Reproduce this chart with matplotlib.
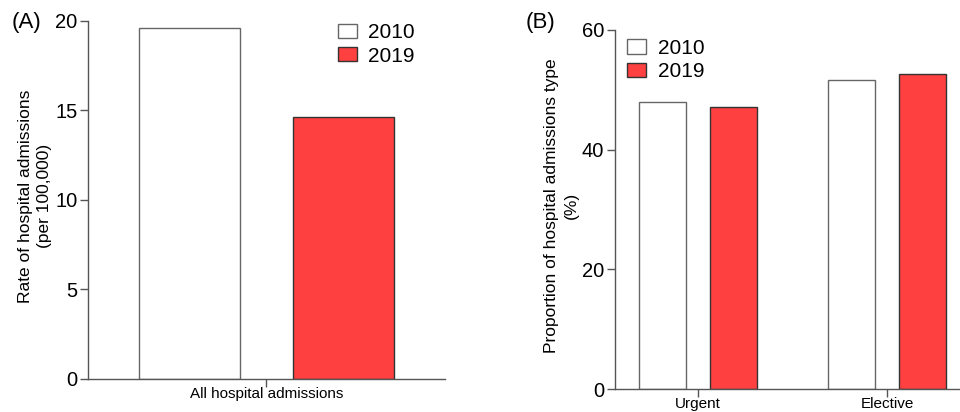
import numpy as np
import matplotlib
matplotlib.use('Agg')
from matplotlib import pyplot as plt
from matplotlib.patches import Patch

plt.rcParams['font.family'] = ['Liberation Sans', 'DejaVu Sans']

# Panel A: overall admission rate
years = ["2010", "2019"]
rate_cats = ["All hospital admissions"]
rate_2010 = [19.6]
rate_2019 = [14.6]

# Panel B: admission type share
type_cats = ["Urgent", "Elective"]
share_2010 = [48.0, 51.6]
share_2019 = [47.1, 52.7]

WHITE = "#ffffff"
RED = "#ff4040"
SPINE = "#555555"

fig = plt.figure(figsize=(9.6, 4.12), dpi=100)
axA = fig.add_axes([0.0917, 0.0801, 0.3718, 0.8697])
axB = fig.add_axes([0.6403, 0.0558, 0.3597, 0.8714])


def style_axis(ax):
    for side in ["top", "right"]:
        ax.spines[side].set_visible(False)
    for side in ["left", "bottom"]:
        ax.spines[side].set_color(SPINE)
        ax.spines[side].set_linewidth(1.0)
    ax.tick_params(axis="both", colors=SPINE, length=6, width=1.0, direction="out")
    ax.tick_params(axis="y", labelsize=14.5, labelcolor="black", pad=1.5)
    ax.tick_params(axis="x", labelsize=11, labelcolor="black", pad=0.5, length=5.5)


def add_legend(ax, anchor):
    handles = [Patch(facecolor=WHITE, edgecolor="#666666", linewidth=1.0),
               Patch(facecolor=RED, edgecolor="#333333", linewidth=1.0)]
    ax.legend(handles, years, loc="upper left", bbox_to_anchor=anchor,
              bbox_transform=fig.transFigure, frameon=False, fontsize=15,
              handlelength=0.9, handleheight=0.67, handletextpad=0.55,
              labelspacing=0.22, borderpad=0, borderaxespad=0)


# (A)
xa = np.arange(len(rate_cats))
wa = 0.566
axA.bar(xa - 0.43, rate_2010, wa, color=WHITE, edgecolor="#666666", linewidth=1.0)
axA.bar(xa + 0.43, rate_2019, wa, color=RED, edgecolor="#333333", linewidth=1.0)
axA.set_xlim(-1, 1)
axA.set_ylim(0, 20)
axA.set_yticks([0, 5, 10, 15, 20])
axA.set_xticks(xa)
axA.set_xticklabels(rate_cats)
axA.set_ylabel("Rate of hospital admissions\n(per 100,000)", fontsize=12.5,
               linespacing=1.38)
axA.yaxis.set_label_coords(-0.100, 0.51)
style_axis(axA)
add_legend(axA, (0.352, 0.944))
fig.text(0.012, 0.945, "(A)", fontsize=16, va="center", ha="left")

# (B)
xb = np.arange(len(type_cats))
wb = 0.248
axB.bar(xb - 0.188, share_2010, wb, color=WHITE, edgecolor="#666666", linewidth=1.0)
axB.bar(xb + 0.188, share_2019, wb, color=RED, edgecolor="#333333", linewidth=1.0)
axB.set_xlim(-0.44, 1.384)
axB.set_ylim(0, 60)
axB.set_yticks([0, 20, 40, 60])
axB.set_xticks(xb)
axB.set_xticklabels(type_cats)
axB.set_ylabel("Proportion of hospital admissions type\n(%)", fontsize=12.5,
               linespacing=1.38)
axB.yaxis.set_label_coords(-0.104, 0.511)
style_axis(axB)
add_legend(axB, (0.6535, 0.906))
fig.text(0.548, 0.945, "(B)", fontsize=16, va="center", ha="left")

fig.savefig("out.png", dpi=100)
